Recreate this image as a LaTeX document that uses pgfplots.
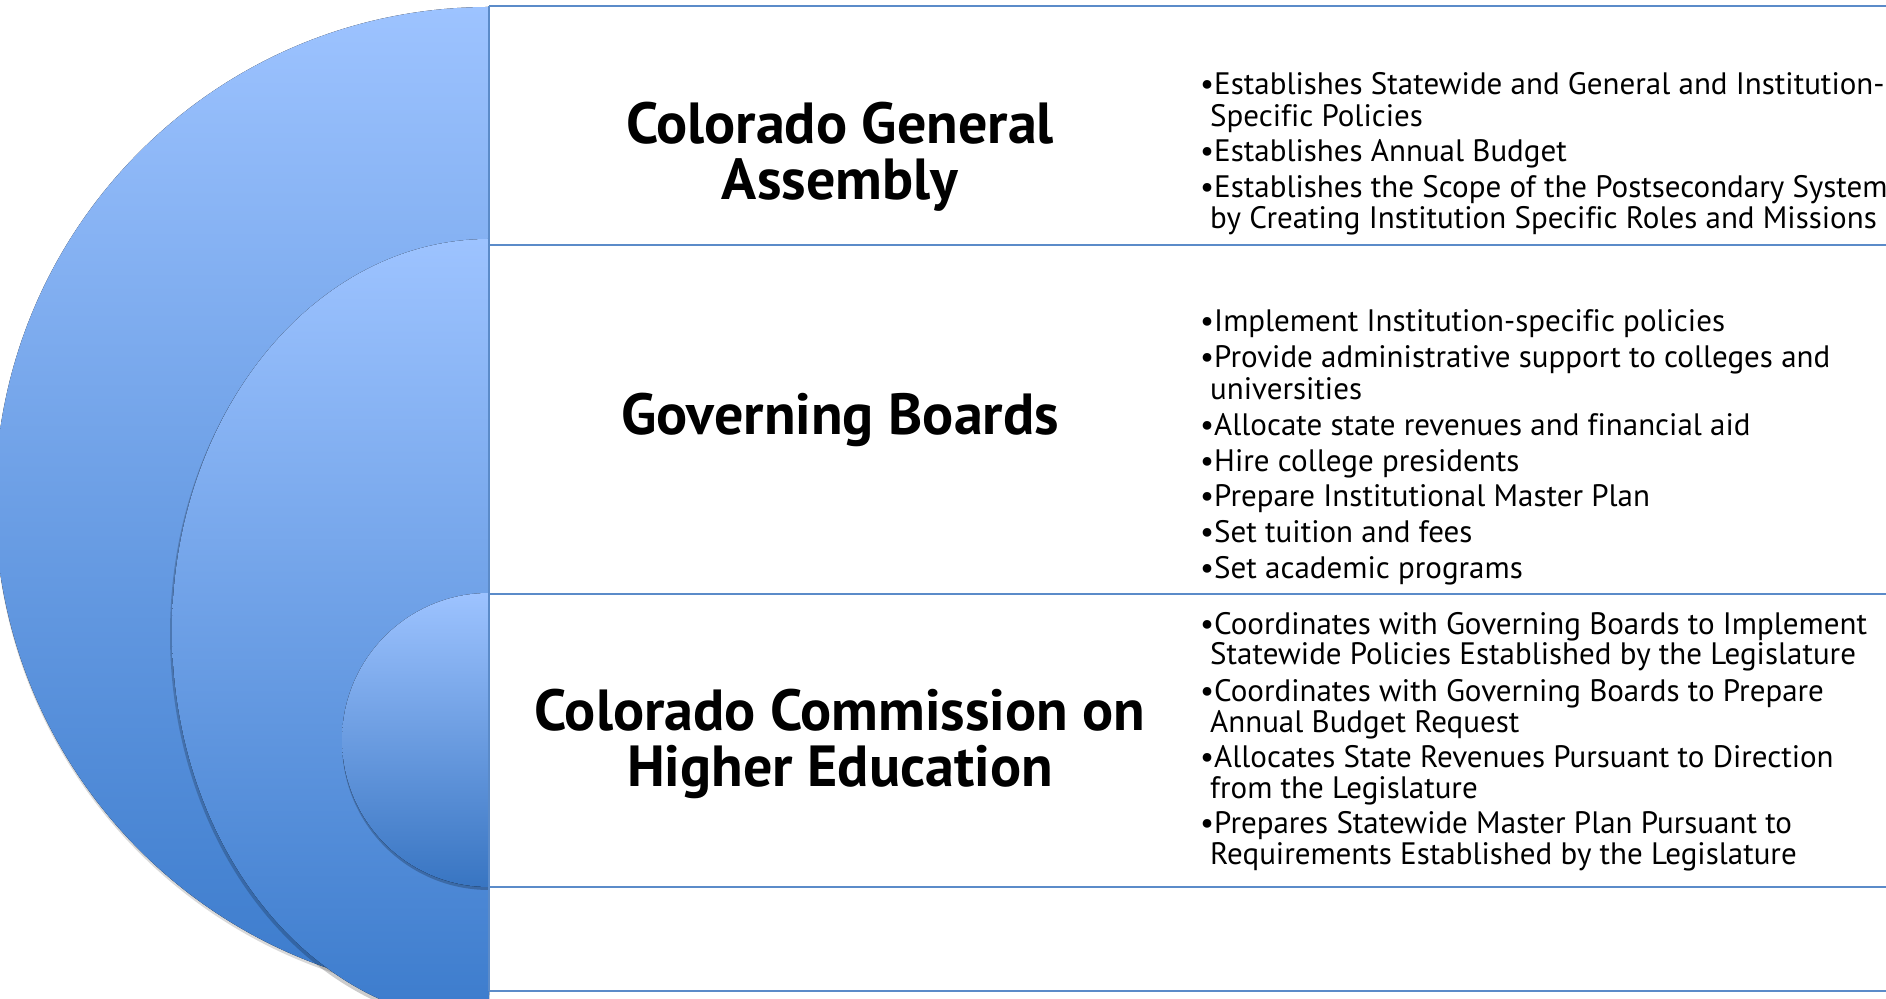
\documentclass[border=0pt]{standalone}
\usepackage{pgfplots}
\pgfplotsset{compat=1.18}
\usepackage{fontspec}
\setmainfont{PT Sans}[Ligatures=NoCommon]

\definecolor{lite}{HTML}{9DC3FF}
\definecolor{dark}{HTML}{3B7BCC}
\definecolor{edge}{HTML}{5B8BC9}

% body line / title line helpers (x, y in pixels from bottom)
\newcommand{\bl}[3]{\node[anchor=base west,inner sep=0pt] at (axis cs:#1,#2) {\fontsize{31}{31}\selectfont #3};}
\newcommand{\ttl}[2]{\node[anchor=base,inner sep=0pt] at (axis cs:840,#1) {\fontsize{58}{58}\selectfont\bfseries #2};}

\begin{document}
\begin{tikzpicture}
\useasboundingbox (0,0) rectangle (1886pt,998pt);
\begin{axis}[
    x=1pt, y=1pt,
    xmin=0, xmax=1886, ymin=0, ymax=998,
    axis lines=none,
    scale only axis,
    clip=true
]
    % shadows
    \fill[black,opacity=0.15] (axis cs:489,988) arc[start angle=90,end angle=270,radius=494] -- cycle;
    % big half circle
    \fill[top color=lite,bottom color=dark] (axis cs:489,991) arc[start angle=90,end angle=270,radius=494] -- cycle;
    % middle half ellipse
    \fill[black,opacity=0.2] (axis cs:487,756) arc[start angle=90,end angle=270,x radius=317,y radius=392] -- cycle;
    \fill[top color=lite,bottom color=dark] (axis cs:489,759) arc[start angle=90,end angle=270,x radius=317,y radius=392] -- cycle;
    % small half circle
    \fill[black,opacity=0.22] (axis cs:489,402) arc[start angle=90,end angle=270,radius=147] -- cycle;
    \fill[top color=lite,bottom color=dark!95!black] (axis cs:489,405) arc[start angle=90,end angle=270,radius=147] -- cycle;

    % boxes
    \draw[edge,line width=2pt] (axis cs:489,7) -- (axis cs:489,992);
    \foreach \yy in {992,753,404,111,7} {
        \edef\tmp{\noexpand\draw[edge,line width=2pt] (axis cs:489,\yy) -- (axis cs:1886,\yy);}
        \tmp
    }

    % titles
    \ttl{854}{Colorado General}
    \ttl{798}{Assembly}
    \ttl{563}{Governing Boards}
    \ttl{267}{Colorado Commission on}
    \ttl{211}{Higher Education}

    % box 1
    \bl{1200}{903}{\textbullet Establishes Statewide and General and Institution-}
    \bl{1210}{871}{Specific Policies}
    \bl{1200}{836}{\textbullet Establishes Annual Budget}
    \bl{1200}{800}{\textbullet Establishes the Scope of the Postsecondary System}
    \bl{1210}{769}{by Creating Institution Specific Roles and Missions}
    % box 2
    \bl{1200}{666}{\textbullet Implement Institution-specific policies}
    \bl{1200}{630}{\textbullet Provide administrative support to colleges and}
    \bl{1210}{598}{universities}
    \bl{1200}{562}{\textbullet Allocate state revenues and financial aid}
    \bl{1200}{526}{\textbullet Hire college presidents}
    \bl{1200}{491}{\textbullet Prepare Institutional Master Plan}
    \bl{1200}{455}{\textbullet Set tuition and fees}
    \bl{1200}{419}{\textbullet Set academic programs}
    % box 3
    \bl{1200}{363}{\textbullet Coordinates with Governing Boards to Implement}
    \bl{1210}{333}{Statewide Policies Established by the Legislature}
    \bl{1200}{296}{\textbullet Coordinates with Governing Boards to Prepare}
    \bl{1210}{265}{Annual Budget Request}
    \bl{1200}{230}{\textbullet Allocates State Revenues Pursuant to Direction}
    \bl{1210}{199}{from the Legislature}
    \bl{1200}{164}{\textbullet Prepares Statewide Master Plan Pursuant to}
    \bl{1210}{133}{Requirements Established by the Legislature}
\end{axis}
\end{tikzpicture}
\end{document}
